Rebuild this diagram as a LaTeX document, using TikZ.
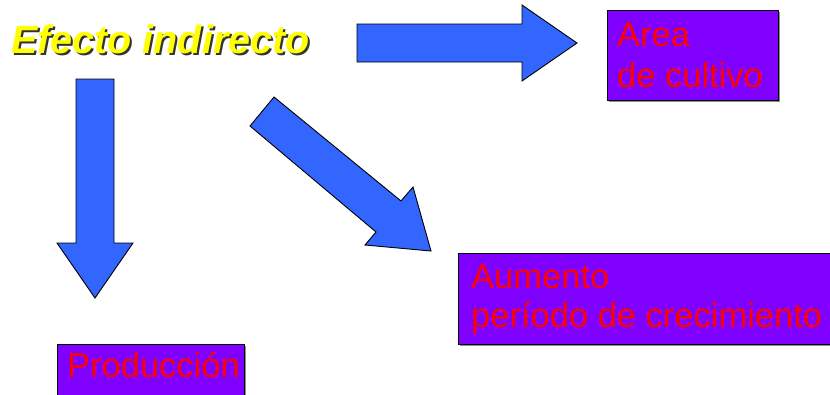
\documentclass[tikz,border=0pt]{standalone}
\usepackage{fontspec}
\setmainfont{Liberation Sans}
\definecolor{arrowblue}{HTML}{3366FF}
\definecolor{boxviolet}{HTML}{7F00FF}
\definecolor{txtred}{HTML}{FF0000}
\definecolor{titleyellow}{HTML}{FFFF00}
\tikzset{
  blockarrow/.style={fill=arrowblue, draw=black, line width=0.9pt, line join=miter},
  vbox/.style={fill=boxviolet, draw=black, line width=1pt, inner sep=0pt, anchor=north west},
  vshadow/.style={fill=black!45, draw=none},
  boxtext/.style={text=txtred, inner sep=0pt, anchor=base west, font=\fontsize{34.5}{40}\selectfont},
}
\newcommand{\shadowtitle}[1]{\rlap{\kern2pt\raisebox{-2pt}{\color{black!80}#1}}{\color{titleyellow}#1}}
\begin{document}
\begin{tikzpicture}[x=1pt,y=-1pt]
\useasboundingbox (0,0) rectangle (830,394);
% title
\node[inner sep=0pt, anchor=base west, font=\fontsize{39.5}{40}\selectfont\bfseries\itshape] (title) at (11,53) {\shadowtitle{Efecto indirecto}};
% arrows
\draw[blockarrow] (357,24) -- (522,24) -- (522,5) -- (577,43) -- (522,81) -- (522,62) -- (357,62) -- cycle;
\draw[blockarrow] (76,79) -- (114,79) -- (114,243) -- (133,243) -- (95,298) -- (57,243) -- (76,243) -- cycle;
\draw[blockarrow] (274,97) -- (401,201) -- (413,187) -- (431,251) -- (365,245) -- (376,232) -- (250,126) -- cycle;
% boxes
\fill[vshadow] (609,12) rectangle (780,102);
\node[vbox, minimum width=171pt, minimum height=90pt] (area) at (607,10) {};
\node[boxtext] (areatxt) at (617,46) {\vtop{\baselineskip=41pt\hbox{Area}\hbox{de cultivo}}};
\fill[vshadow] (460,255) rectangle (832,346);
\node[vbox, minimum width=372pt, minimum height=91pt] (aumento) at (458,253) {};
\node[boxtext] (aumentotxt) at (471,288) {\vtop{\baselineskip=39pt\hbox{Aumento}\hbox{período de crecimiento}}};
\fill[vshadow] (59,346) rectangle (246,402);
\node[vbox, minimum width=187pt, minimum height=60pt] (prod) at (57,344) {};
\node[boxtext] (prodtxt) at (67,377) {Producción};
\end{tikzpicture}
\end{document}
